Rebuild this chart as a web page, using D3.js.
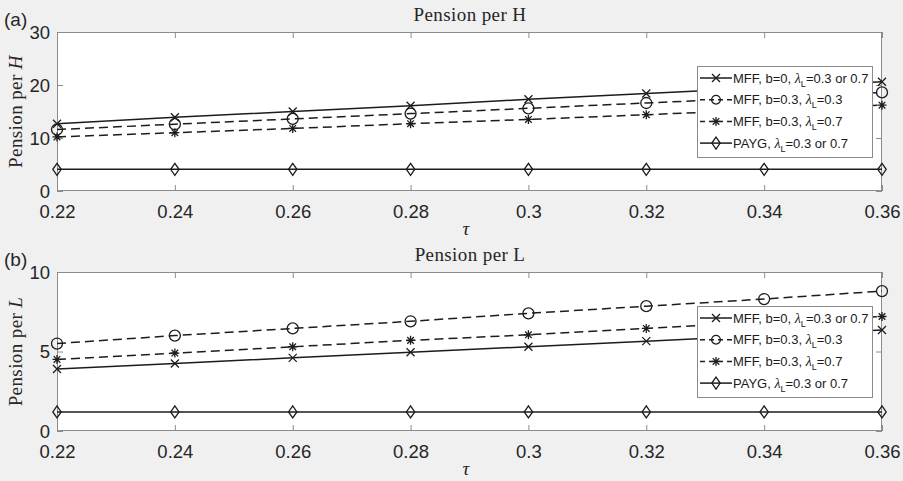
<!DOCTYPE html>
<html>
<head>
<meta charset="utf-8">
<script src="https://cdn.jsdelivr.net/npm/d3@7"></script>
<style>
  body { margin: 0; background: #f0f0f0; }
  svg { display: block; }
</style>
</head>
<body>
<div id="chart"></div>
<script>
// Define SVG area dimensions
var svgWidth = 903;
var svgHeight = 481;

// x values (tau) shared by both panels
var tau = [0.22, 0.24, 0.26, 0.28, 0.30, 0.32, 0.34, 0.36];
var xTicks = [0.22, 0.24, 0.26, 0.28, 0.3, 0.32, 0.34, 0.36];

// Panel (a): pension per H
var mffB0H = [12.7, 13.9, 15.0, 16.1, 17.3, 18.4, 19.5, 20.6];
var mffB03L03H = [11.6, 12.6, 13.6, 14.6, 15.6, 16.6, 17.6, 18.6];
var mffB03L07H = [10.2, 11.0, 11.8, 12.7, 13.5, 14.4, 15.3, 16.2];
var paygH = [4.1, 4.1, 4.1, 4.1, 4.1, 4.1, 4.1, 4.1];
var yTicksH = [0, 10, 20, 30];

// Panel (b): pension per L
var mffB0L = [3.9, 4.25, 4.6, 4.95, 5.3, 5.65, 6.0, 6.35];
var mffB03L03L = [5.5, 6.0, 6.45, 6.9, 7.4, 7.85, 8.3, 8.8];
var mffB03L07L = [4.5, 4.9, 5.3, 5.7, 6.05, 6.45, 6.85, 7.2];
var paygL = [1.2, 1.2, 1.2, 1.2, 1.2, 1.2, 1.2, 1.2];
var yTicksL = [0, 5, 10];

// legend entries (label parts: before lambda, after lambda)
var legendLabels = [
  ["MFF, b=0, ", "=0.3 or 0.7"],
  ["MFF, b=0.3, ", "=0.3"],
  ["MFF, b=0.3, ", "=0.7"],
  ["PAYG, ", "=0.3 or 0.7"]
];
var seriesStyle = [
  { marker: "x", dash: null },
  { marker: "o", dash: "9,5" },
  { marker: "*", dash: "9,5" },
  { marker: "d", dash: null }
];

var ink = "#1c1c1c";
var axisGrey = "#8c8c8c";

var svg = d3.select("#chart")
  .append("svg")
  .attr("width", svgWidth)
  .attr("height", svgHeight);

// draw one marker centred at 0,0 into group g
function drawMarker(g, type, small) {
  var s = small ? 0.8 : 1;
  if (type === "x") {
    g.append("path").attr("d", "M-4,-4L4,4M-4,4L4,-4");
  } else if (type === "o") {
    g.append("circle").attr("r", 5.5 * s);
  } else if (type === "*") {
    g.append("path").attr("d", "M-4.5,0H4.5M0,-4.5V4.5M-3.3,-3.3L3.3,3.3M-3.3,3.3L3.3,-3.3");
  } else if (type === "d") {
    g.append("path").attr("d", "M0,-6L4.2,0L0,6L-4.2,0Z");
  }
}

function drawPanel(opts) {
  var top = opts.top, bottom = opts.bottom;
  var left = 57, right = 882;

  var x = d3.scaleLinear().domain([0.22, 0.36]).range([left, right]);
  var y = d3.scaleLinear().domain(opts.yDomain).range([bottom, top]);

  // white plot area
  svg.append("rect")
    .attr("x", left).attr("y", top)
    .attr("width", right - left).attr("height", bottom - top)
    .attr("fill", "#ffffff");

  // axes with inner ticks
  var bottomAxis = d3.axisBottom(x).tickValues(xTicks).tickSize(-6).tickPadding(14)
    .tickFormat(d => d3.format("")(+d.toFixed(2)));
  var topAxis = d3.axisTop(x).tickValues(xTicks).tickSize(-6).tickFormat("");
  var leftAxis = d3.axisLeft(y).tickValues(opts.yTicks).tickSize(-6).tickPadding(7);
  var rightAxis = d3.axisRight(y).tickValues(opts.yTicks).tickSize(-6).tickFormat("");

  var gx = svg.append("g").attr("transform", `translate(0,${bottom})`).call(bottomAxis);
  var gt = svg.append("g").attr("transform", `translate(0,${top})`).call(topAxis);
  var gy = svg.append("g").attr("transform", `translate(${left},0)`).call(leftAxis);
  var gr = svg.append("g").attr("transform", `translate(${right},0)`).call(rightAxis);

  [gx, gt, gy, gr].forEach(function(g) {
    g.select(".domain").remove();
    g.selectAll(".tick line").attr("stroke", axisGrey).attr("stroke-width", 1);
    g.selectAll(".tick text")
      .attr("fill", "#262626")
      .style("font-family", "'Liberation Sans', Arial, sans-serif")
      .style("font-size", "18.5px");
  });
  gy.selectAll(".tick text").attr("dy", "0.34em");

  // box
  svg.append("rect")
    .attr("x", left + 0.5).attr("y", top + 0.5)
    .attr("width", right - left - 1).attr("height", bottom - top - 1)
    .attr("fill", "none")
    .attr("stroke", axisGrey)
    .attr("stroke-width", 1);

  // series lines and markers
  var line = d3.line().x((d, i) => x(tau[i])).y(d => y(d));
  opts.series.forEach(function(vals, k) {
    var st = seriesStyle[k];
    svg.append("path")
      .datum(vals)
      .attr("d", line)
      .attr("fill", "none")
      .attr("stroke", ink)
      .attr("stroke-width", 1.5)
      .attr("stroke-dasharray", st.dash);

    var marks = svg.append("g")
      .attr("fill", "none")
      .attr("stroke", ink)
      .attr("stroke-width", 1.3);
    vals.forEach(function(v, i) {
      var m = marks.append("g").attr("transform", `translate(${x(tau[i])},${y(v)})`);
      drawMarker(m, st.marker);
    });
  });

  // title
  svg.append("text")
    .attr("x", 470).attr("y", top - 11)
    .attr("text-anchor", "middle")
    .attr("fill", "#262626")
    .style("font-family", "'Liberation Serif', 'Times New Roman', serif")
    .style("font-size", "19px")
    .style("letter-spacing", "0.4px")
    .text(opts.title);

  // panel letter
  svg.append("text")
    .attr("x", 4).attr("y", top - 6)
    .attr("fill", "#262626")
    .style("font-family", "'Liberation Sans', Arial, sans-serif")
    .style("font-size", "19px")
    .text(opts.letter);

  // y label
  var yl = svg.append("text")
    .attr("transform", `translate(22,${(top + bottom) / 2}) rotate(-90)`)
    .attr("text-anchor", "middle")
    .attr("fill", "#262626")
    .style("font-family", "'Liberation Serif', 'Times New Roman', serif")
    .style("font-size", "19px")
    .style("letter-spacing", "0.4px");
  yl.append("tspan").text("Pension per ");
  yl.append("tspan").style("font-style", "italic").text(opts.yVar);

  // x label
  svg.append("text")
    .attr("x", 466).attr("y", bottom + 44)
    .attr("text-anchor", "middle")
    .attr("fill", "#262626")
    .style("font-family", "'Liberation Serif', 'Times New Roman', serif")
    .style("font-style", "italic")
    .style("font-size", "19px")
    .text("\u03c4");

  // legend
  var lg = svg.append("g").attr("transform", `translate(697,${opts.legendTop})`);
  lg.append("rect")
    .attr("x", 0.5).attr("y", 0.5)
    .attr("width", 175).attr("height", 91)
    .attr("fill", "#ffffff")
    .attr("stroke", axisGrey)
    .attr("stroke-width", 1);

  legendLabels.forEach(function(lab, k) {
    var st = seriesStyle[k];
    var ry = 12 + k * 21.7;
    lg.append("line")
      .attr("x1", 3).attr("x2", 35)
      .attr("y1", ry).attr("y2", ry)
      .attr("stroke", ink)
      .attr("stroke-width", 1.5)
      .attr("stroke-dasharray", st.dash ? "5,4" : null);
    var m = lg.append("g")
      .attr("transform", `translate(19,${ry})`)
      .attr("fill", "none")
      .attr("stroke", ink)
      .attr("stroke-width", 1.3);
    drawMarker(m, st.marker, true);

    var t = lg.append("text")
      .attr("x", 36).attr("y", ry + 4.5)
      .attr("fill", "#1a1a1a")
      .style("font-family", "'Liberation Sans', Arial, sans-serif")
      .style("font-size", "13px");
    t.append("tspan").text(lab[0]);
    t.append("tspan")
      .style("font-family", "'Liberation Serif', 'Times New Roman', serif")
      .style("font-style", "italic")
      .style("font-size", "14px")
      .text("\u03bb");
    t.append("tspan").attr("dy", 4).style("font-size", "9px").text("L");
    t.append("tspan").attr("dy", -4).text(lab[1]);
  });
}

drawPanel({
  top: 32, bottom: 191,
  yDomain: [0, 30], yTicks: yTicksH,
  series: [mffB0H, mffB03L03H, mffB03L07H, paygH],
  title: "Pension per H", letter: "(a)", yVar: "H",
  legendTop: 66
});

drawPanel({
  top: 272, bottom: 431,
  yDomain: [0, 10], yTicks: yTicksL,
  series: [mffB0L, mffB03L03L, mffB03L07L, paygL],
  title: "Pension per L", letter: "(b)", yVar: "L",
  legendTop: 306
});
</script>
</body>
</html>
